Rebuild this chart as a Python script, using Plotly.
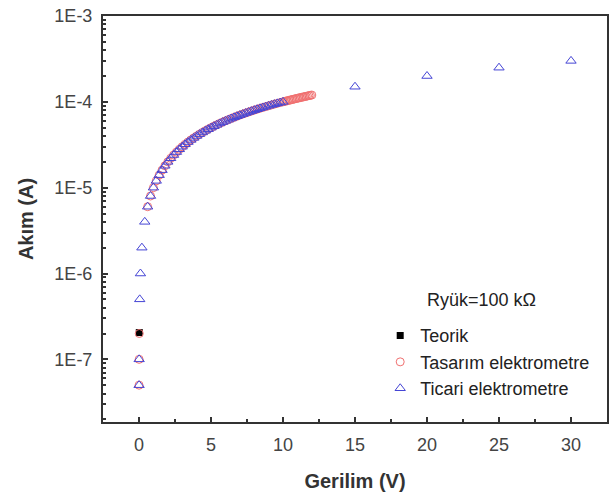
import plotly.graph_objects as go

# ---- data ----
teorik_v = [0.02]
teorik_i = [2.05e-7]

tasarim_v = [0.005, 0.01, 0.02, 0.6, 0.8, 1.0, 1.2, 1.4, 1.6, 1.8, 2.0, 2.2, 2.4, 2.6, 2.8, 3.0,
             3.2, 3.4, 3.6, 3.8, 4.0, 4.2, 4.4, 4.6, 4.8, 5.0, 5.2, 5.4, 5.6, 5.8, 6.0,
             6.2, 6.4, 6.6, 6.8, 7.0, 7.2, 7.4, 7.6, 7.8, 8.0, 8.2, 8.4, 8.6, 8.8, 9.0,
             9.2, 9.4, 9.6, 9.8, 10.0, 10.1, 10.2, 10.3, 10.4, 10.5, 10.6, 10.7, 10.8, 10.9,
             11.0, 11.1, 11.2, 11.3, 11.4, 11.5, 11.6, 11.7, 11.8, 11.9, 12.0]
tasarim_i = [5e-8, 1e-7, 2e-7, 6.0e-6, 8.0e-6, 1.0e-5, 1.2e-5, 1.4e-5, 1.6e-5, 1.8e-5, 2.0e-5,
             2.2e-5, 2.4e-5, 2.6e-5, 2.8e-5, 3.0e-5, 3.2e-5, 3.4e-5, 3.6e-5, 3.8e-5, 4.0e-5,
             4.2e-5, 4.4e-5, 4.6e-5, 4.8e-5, 5.0e-5, 5.2e-5, 5.4e-5, 5.6e-5, 5.8e-5, 6.0e-5,
             6.2e-5, 6.4e-5, 6.6e-5, 6.8e-5, 7.0e-5, 7.2e-5, 7.4e-5, 7.6e-5, 7.8e-5, 8.0e-5,
             8.2e-5, 8.4e-5, 8.6e-5, 8.8e-5, 9.0e-5, 9.2e-5, 9.4e-5, 9.6e-5, 9.8e-5, 1.0e-4,
             1.01e-4, 1.02e-4, 1.03e-4, 1.04e-4, 1.05e-4, 1.06e-4, 1.07e-4, 1.08e-4, 1.09e-4,
             1.10e-4, 1.11e-4, 1.12e-4, 1.13e-4, 1.14e-4, 1.15e-4, 1.16e-4, 1.17e-4, 1.18e-4,
             1.19e-4, 1.20e-4]

ticari_v = [0.005, 0.01, 0.05, 0.1, 0.2, 0.4, 0.6, 0.8, 1.0, 1.2, 1.4, 1.6, 1.8, 2.0, 2.2, 2.4,
            2.6, 2.8, 3.0, 3.2, 3.4, 3.6, 3.8, 4.0, 4.2, 4.4, 4.6, 4.8, 5.0, 5.2, 5.4, 5.6,
            5.8, 6.0, 6.2, 6.4, 6.6, 6.8, 7.0, 7.2, 7.4, 7.6, 7.8, 8.0, 8.2, 8.4, 8.6, 8.8,
            9.0, 9.2, 9.4, 9.6, 9.8, 10.0, 15, 20, 25, 30]
ticari_i = [5e-8, 1e-7, 5e-7, 1e-6, 2e-6, 4e-6, 6.0e-6, 8.0e-6, 1.0e-5, 1.2e-5, 1.4e-5, 1.6e-5,
            1.8e-5, 2.0e-5, 2.2e-5, 2.4e-5, 2.6e-5, 2.8e-5, 3.0e-5, 3.2e-5, 3.4e-5, 3.6e-5,
            3.8e-5, 4.0e-5, 4.2e-5, 4.4e-5, 4.6e-5, 4.8e-5, 5.0e-5, 5.2e-5, 5.4e-5, 5.6e-5,
            5.8e-5, 6.0e-5, 6.2e-5, 6.4e-5, 6.6e-5, 6.8e-5, 7.0e-5, 7.2e-5, 7.4e-5, 7.6e-5,
            7.8e-5, 8.0e-5, 8.2e-5, 8.4e-5, 8.6e-5, 8.8e-5, 9.0e-5, 9.2e-5, 9.4e-5, 9.6e-5,
            9.8e-5, 1.0e-4, 1.5e-4, 2.0e-4, 2.5e-4, 3.0e-4]

y_tickvals = [1e-7, 1e-6, 1e-5, 1e-4, 1e-3]
y_ticktext = ["1E-7", "1E-6", "1E-5", "1E-4", "1E-3"]
x_tickvals = [0, 5, 10, 15, 20, 25, 30]

FONT = "Liberation Sans, Arial, sans-serif"
AX = "#333333"

fig = go.Figure()
fig.add_trace(go.Scatter(x=teorik_v, y=teorik_i, mode="markers", name="Teorik",
                         legendgroup="a",
                         marker=dict(symbol="square", size=7, color="black")))
fig.add_trace(go.Scatter(x=tasarim_v, y=tasarim_i, mode="markers", name="Tasarım elektrometre",
                         legendgroup="b",
                         marker=dict(symbol="circle-open", size=8, color="#f07070",
                                     line=dict(width=1))))
fig.add_trace(go.Scatter(x=ticari_v, y=ticari_i, mode="markers", name="Ticari elektrometre",
                         legendgroup="c",
                         marker=dict(symbol="triangle-up-open", size=9, color="#4545d5",
                                     line=dict(width=1))))

fig.update_layout(
    width=615, height=500,
    margin=dict(l=103, r=8, t=16, b=78),
    paper_bgcolor="white", plot_bgcolor="white",
    font=dict(family=FONT, color=AX, size=18),
    showlegend=True,
    legend=dict(x=0.55, y=0.258, xanchor="left", yanchor="top",
                bgcolor="rgba(0,0,0,0)", font=dict(size=18, color="#222"),
                tracegroupgap=0, itemwidth=30),
    xaxis=dict(
        range=[-2.5, 32.5], tickvals=x_tickvals, ticks="inside", ticklen=5,
        tickwidth=1.5, tickcolor=AX, showline=True, linewidth=2, linecolor=AX,
        mirror=True, showgrid=False, zeroline=False, automargin=False,
        ticklabeloverflow="allow",
        minor=dict(dtick=2.5, tick0=0, ticks="inside", ticklen=3, tickcolor=AX),
        tickfont=dict(size=18, color="#444"), ticklabelstandoff=5,
        title=dict(text="<b>Gerilim (V)</b>", font=dict(size=20, color="#333"), standoff=20),
    ),
    yaxis=dict(
        type="log", range=[-7.73, -3], tickvals=y_tickvals, ticktext=y_ticktext,
        ticks="inside", ticklen=5, tickwidth=1.5, tickcolor=AX, automargin=False,
        ticklabeloverflow="allow",
        showline=True, linewidth=2, linecolor=AX, mirror=True, showgrid=False,
        minor=dict(dtick="D1", ticks="inside", ticklen=3, tickcolor=AX),
        tickfont=dict(size=18, color="#444"), ticklabelstandoff=5,
        title=dict(text="<b>Akım (A)</b>", font=dict(size=20, color="#333"), standoff=15),
    ),
    annotations=[dict(x=19.86, y=-6.31, xref="x", yref="y", text="Ryük=100 kΩ",
                      showarrow=False, xanchor="left", yanchor="middle",
                      font=dict(size=18, color="#222"))],
)

fig.write_html("out.html", config={"displayModeBar": False},
               post_script="document.body.style.margin='0';document.body.style.overflow='hidden';")
